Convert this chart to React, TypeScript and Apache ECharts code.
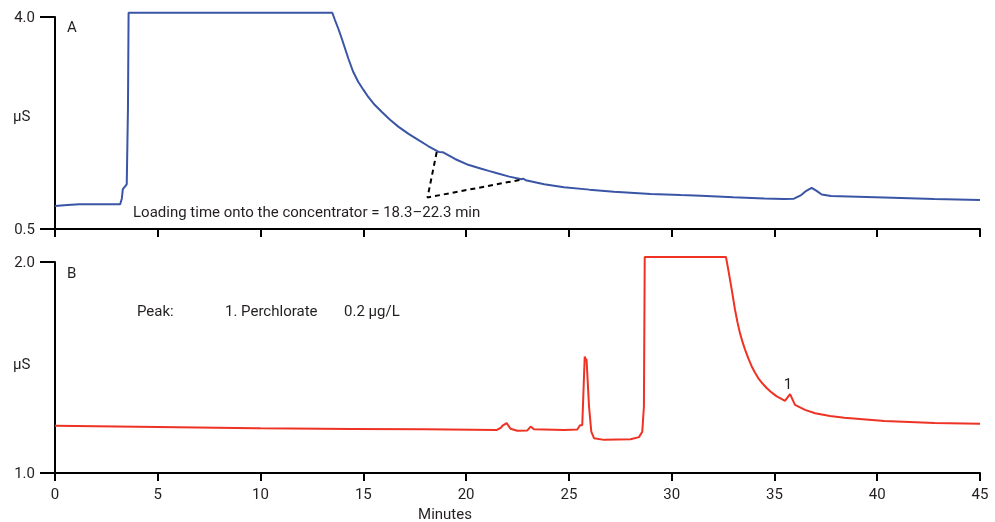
import React, { useEffect, useRef } from "react";
import * as echarts from "echarts";

// Chromatogram A (blue): [minutes, µS]
const traceA: [number, number][] = [
  [0, 0.88], [0.6, 0.895], [1.2, 0.91], [3.17, 0.91], [3.25, 1.0], [3.3, 1.16], [3.45, 1.22],
  [3.49, 1.24], [3.55, 2.5], [3.58, 4.07], [13.49, 4.07], [13.62, 3.95], [13.78, 3.81],
  [13.95, 3.645], [14.27, 3.315], [14.5, 3.1], [14.75, 2.93], [15.0, 2.8], [15.24, 2.68],
  [15.55, 2.55], [15.89, 2.437], [16.3, 2.305], [16.7, 2.19], [17.2, 2.07], [17.67, 1.97],
  [18.15, 1.87], [18.62, 1.78], [18.7, 1.772], [18.86, 1.768], [19.46, 1.656], [20.1, 1.56],
  [20.7, 1.5], [21.1, 1.46], [21.51, 1.42], [22.1, 1.365], [22.7, 1.322], [22.78, 1.332],
  [22.9, 1.305], [23.8, 1.24], [24.76, 1.19], [26.0, 1.15], [27.19, 1.116], [28.98, 1.078],
  [30.44, 1.06], [31.42, 1.05], [33.0, 1.025], [34.5, 1.005], [35.46, 0.995], [35.95, 1.0],
  [36.3, 1.06], [36.55, 1.13], [36.81, 1.18], [37.05, 1.13], [37.3, 1.07], [37.75, 1.045],
  [40.33, 1.02], [42.77, 0.995], [45, 0.979],
];

// Chromatogram B (red): [minutes, µS]
const traceB: [number, number][] = [
  [0, 1.224], [5, 1.218], [10, 1.212], [14.4, 1.209], [18, 1.207], [21.5, 1.204], [21.7, 1.215],
  [21.76, 1.223], [21.97, 1.236], [22.16, 1.21], [22.49, 1.2], [22.98, 1.202], [23.14, 1.22],
  [23.3, 1.207], [24.76, 1.204], [25.41, 1.206], [25.54, 1.226], [25.65, 1.226], [25.77, 1.552],
  [25.82, 1.54], [25.86, 1.536], [25.98, 1.315], [26.09, 1.196], [26.22, 1.165], [26.71, 1.157],
  [28.0, 1.16], [28.41, 1.17], [28.57, 1.196], [28.65, 1.315], [28.69, 2.024], [32.64, 2.024],
  [32.76, 1.96], [32.92, 1.87], [33.08, 1.775], [33.2, 1.715], [33.32, 1.664], [33.45, 1.62],
  [33.57, 1.585], [33.73, 1.543], [33.89, 1.506], [34.05, 1.476], [34.21, 1.45], [34.42, 1.424],
  [34.62, 1.403], [34.86, 1.382], [35.11, 1.363], [35.32, 1.352], [35.51, 1.342], [35.76, 1.374],
  [36.0, 1.323], [36.49, 1.299], [36.98, 1.283], [37.7, 1.27], [38.4, 1.262], [40.35, 1.247],
  [42.78, 1.237], [45, 1.233],
];

// Dashed bracket showing the loading window (minutes, µS on panel A)
const loadingBracket: [number, number][] = [[18.57, 1.77], [18.12, 1.02], [22.76, 1.32]];

const xTicks = { min: 0, max: 45, interval: 5 };
const yTicksA = [0.5, 4.0];
const yTicksB = [1.0, 2.0];

const FONT = "'Roboto', sans-serif";
const TEXT = "#231f20";

export default function App() {
  const ref = useRef<HTMLDivElement>(null);
  useEffect(() => {
    if (!ref.current) return;
    const chart = echarts.init(ref.current, null, { renderer: "svg" });
    const axisLine = { show: true, lineStyle: { color: "#000", width: 2 } };
    const xAxisBase = (grid: number, labels: boolean) => ({
      type: "value",
      gridIndex: grid,
      min: xTicks.min,
      max: xTicks.max,
      interval: xTicks.interval,
      axisLine,
      axisTick: { show: true, length: 8, lineStyle: { color: "#000", width: 2 } },
      axisLabel: { show: labels, color: TEXT, fontSize: 15, fontFamily: FONT, margin: 13 },
      splitLine: { show: false },
    });
    const yAxisBase = (grid: number, ticks: number[]) => ({
      type: "value",
      gridIndex: grid,
      min: ticks[0],
      max: ticks[1],
      axisLine,
      axisTick: { show: true, length: 15, customValues: ticks, lineStyle: { color: "#000", width: 2 } },
      axisLabel: {
        show: true,
        customValues: ticks,
        color: TEXT,
        fontSize: 15,
        fontFamily: FONT,
        margin: 20,
        formatter: (v: number) => v.toFixed(1),
      },
      splitLine: { show: false },
    });
    const txt = (x: number, y: number, text: string, align = "left") => ({
      type: "text",
      x,
      y,
      style: { text, fill: TEXT, fontSize: 15, fontFamily: FONT, align, verticalAlign: "middle" },
    });
    chart.setOption({
      animation: false,
      grid: [
        { left: 55, top: 17, width: 925, height: 212 },
        { left: 55, top: 262, width: 925, height: 211 },
      ],
      xAxis: [xAxisBase(0, false), xAxisBase(1, true)],
      yAxis: [yAxisBase(0, yTicksA), yAxisBase(1, yTicksB)],
      series: [
        {
          type: "line",
          xAxisIndex: 0,
          yAxisIndex: 0,
          data: traceA,
          showSymbol: false,
          clip: false,
          lineStyle: { color: "#3a55a5", width: 2 },
        },
        {
          type: "line",
          xAxisIndex: 0,
          yAxisIndex: 0,
          data: loadingBracket,
          showSymbol: false,
          clip: false,
          lineStyle: { color: "#000", width: 2, type: [5, 4] },
        },
        {
          type: "line",
          xAxisIndex: 1,
          yAxisIndex: 1,
          data: traceB,
          showSymbol: false,
          clip: false,
          lineStyle: { color: "#ee3224", width: 2 },
        },
      ],
      graphic: [
        txt(67, 27, "A"),
        txt(13, 116, "μS"),
        txt(133, 212, "Loading time onto the concentrator = 18.3–22.3 min"),
        txt(67, 273, "B"),
        txt(13, 364, "μS"),
        txt(137, 311, "Peak:"),
        txt(225, 311, "1. Perchlorate"),
        txt(344, 311, "0.2 μg/L"),
        txt(788, 384, "1", "center"),
        txt(445, 514, "Minutes", "center"),
      ],
    });
    return () => chart.dispose();
  }, []);
  return <div ref={ref} style={{ position: "fixed", left: 0, top: 0, width: 995, height: 522 }} />;
}
